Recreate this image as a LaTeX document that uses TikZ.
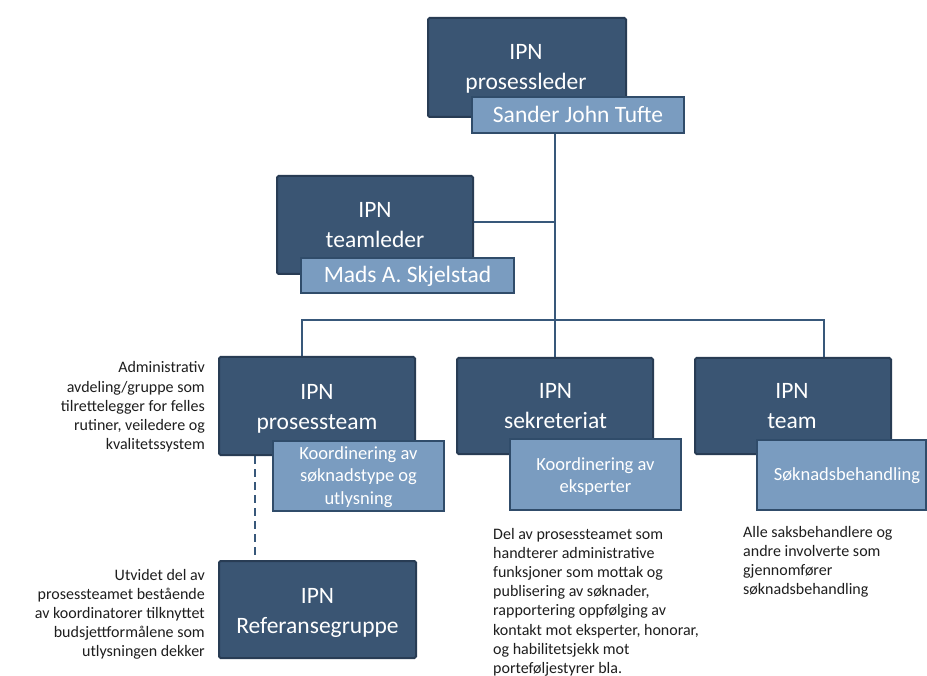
\documentclass[tikz,border=0pt]{standalone}
\usepackage{fontspec}
\setmainfont{Carlito}
\usepackage{array}
\usetikzlibrary{backgrounds}
\definecolor{darkfill}{RGB}{58,85,115}
\definecolor{darkedge}{RGB}{40,60,84}
\definecolor{lightfill}{RGB}{122,156,192}
\definecolor{lightedge}{RGB}{48,76,106}
\definecolor{linkcol}{RGB}{56,88,122}
\definecolor{notecol}{RGB}{30,30,30}
\tikzset{
  darkbox/.style={draw=darkedge, fill=darkfill, line width=2pt, rounded corners=1.5pt,
    inner sep=0pt, minimum width=#1},
  lightbox/.style={draw=lightedge, fill=lightfill, line width=1.5pt,
    inner sep=0pt, minimum width=#1},
  boxtitle/.style={text=white, inner sep=0pt, anchor=base,
    font=\fontsize{23.5}{30}\selectfont},
  subtitle/.style={text=white, inner sep=0pt, anchor=base,
    font=\fontsize{18.5}{22.5}\selectfont},
  note/.style={text=notecol, inner sep=0pt,
    font=\fontsize{16}{19.2}\selectfont},
  link/.style={draw=linkcol, line width=2pt},
}
\newcommand{\twolines}[3]{\begin{tabular}[t]{@{}#1@{}}#2\\#3\end{tabular}}
\begin{document}
\begin{tikzpicture}[x=1pt, y=-1pt]
\useasboundingbox (0,0) rectangle (927,676);

% junction points of the connector tree
\coordinate (hub) at (555,320);
\coordinate (barL) at (302,320);
\coordinate (barR) at (824,320);
\coordinate (dashx) at (255,0);

% boxes
\node[darkbox=198pt, minimum height=99pt] (lead) at (527,67.5) {};
\node[lightbox=212pt, minimum height=36pt] (leadname) at (578,115) {};
\node[darkbox=196pt, minimum height=98pt] (tl) at (375,225) {};
\node[lightbox=213pt, minimum height=35pt] (tlname) at (407.5,275.5) {};
\node[darkbox=196pt, minimum height=98pt] (pt) at (317,406) {};
\node[darkbox=196pt, minimum height=96pt] (sek) at (555,406) {};
\node[darkbox=196pt, minimum height=96pt] (team) at (793,406) {};
\node[darkbox=197pt, minimum height=97pt] (ref) at (317.5,609.5) {};
\node[lightbox=171pt, minimum height=70pt] (ptsub) at (358.5,476) {};
\node[lightbox=171pt, minimum height=71pt] (seksub) at (595.5,474.5) {};
\node[lightbox=169pt, minimum height=70pt] (teamsub) at (841.5,475) {};

% connectors, kept behind the boxes
\begin{scope}[on background layer]
\fill[white] (0,0) rectangle (927,676);
\draw[link] (leadname.south -| hub) -- (sek.north -| hub);
\draw[link] (tl.east |- 0,222) -- (hub |- 0,222);
\draw[link] (pt.north -| barL) -- (barL) -- (barR) -- (team.north -| barR);
\draw[link, dash pattern=on 8pt off 5pt, line width=2.5pt] (pt.south -| dashx) -- (ref.north -| dashx);
\end{scope}

% box texts
\node[boxtitle] (leadtxt) at (526,60) {\twolines{c}{IPN}{prosessleder}};
\node[boxtitle] (leadnametxt) at (578,123) {Sander John Tufte};
\node[boxtitle] (tltxt) at (375,218) {\twolines{c}{IPN}{teamleder}};
\node[boxtitle] (tlnametxt) at (407.5,283) {Mads A. Skjelstad};
\node[boxtitle] (pttxt) at (317,400) {\twolines{c}{IPN}{prosessteam}};
\node[boxtitle] (sektxt) at (555.5,399) {\twolines{c}{IPN}{sekreteriat}};
\node[boxtitle] (teamtxt) at (792,399) {\twolines{c}{IPN}{team}};
\node[boxtitle] (reftxt) at (317.5,603) {\twolines{c}{IPN}{Referansegruppe}};
\node[subtitle] (ptsubtxt) at (358.5,459) {\begin{tabular}[t]{@{}c@{}}Koordinering av\\søknadstype og\\utlysning\end{tabular}};
\node[subtitle] (seksubtxt) at (595.5,470) {\twolines{c}{Koordinering av}{eksperter}};
\node[subtitle] (teamsubtxt) at (847,480) {Søknadsbehandling};

% side notes
\node[note, anchor=base east] (notept) at (205,373) {\begin{tabular}[t]{@{}r@{}}Administrativ\\avdeling/gruppe som\\tilrettelegger  for felles\\rutiner, veiledere og\\kvalitetssystem\end{tabular}};
\node[note, anchor=base east] (noteref) at (205,580) {\begin{tabular}[t]{@{}r@{}}Utvidet del av\\prosessteamet bestående\\av koordinatorer tilknyttet\\budsjettformålene som\\utlysningen dekker\end{tabular}};
\node[note, anchor=base west] (notesek) at (493,539) {\begin{tabular}[t]{@{}l@{}}Del av prosessteamet som\\handterer administrative\\funksjoner som mottak og\\publisering av søknader,\\rapportering oppfølging av\\kontakt mot eksperter, honorar,\\og habilitetsjekk mot\\porteføljestyrer bla.\end{tabular}};
\node[note, anchor=base west] (noteteam) at (743,537) {\begin{tabular}[t]{@{}l@{}}Alle saksbehandlere og\\andre involverte som\\gjennomfører\\søknadsbehandling\end{tabular}};
\end{tikzpicture}
\end{document}
